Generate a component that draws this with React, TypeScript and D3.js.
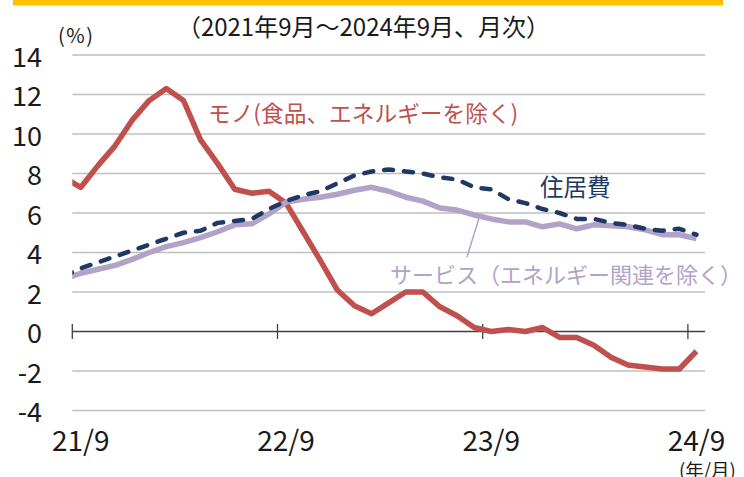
import React from "react";
import * as d3 from "d3";

// Months: index -1 = 2021/8 (outside axis, clipped), 0 = 2021/9 ... 36 = 2024/9
const startIndex = -1;
const goods = [7.8, 7.3, 8.4, 9.4, 10.7, 11.7, 12.3, 11.7, 9.7, 8.5, 7.2, 7.0, 7.1,
  6.5, 5.05, 3.6, 2.1, 1.3, 0.9, 1.45, 2.0, 2.0, 1.25, 0.8, 0.2,
  0.0, 0.1, 0.0, 0.2, -0.3, -0.3, -0.7, -1.3, -1.7, -1.8, -1.9, -1.9, -1.0];
const shelter = [2.8, 3.2, 3.5, 3.8, 4.1, 4.4, 4.7, 5.0, 5.1, 5.5, 5.6, 5.7, 6.2,
  6.6, 6.9, 7.1, 7.5, 7.9, 8.1, 8.2, 8.1, 8.0, 7.8, 7.7, 7.3,
  7.2, 6.7, 6.5, 6.2, 6.0, 5.7, 5.7, 5.5, 5.4, 5.2, 5.1, 5.2, 4.9];
const services = [2.65, 2.95, 3.15, 3.35, 3.65, 4.0, 4.3, 4.5, 4.75, 5.05, 5.4, 5.45, 5.95,
  6.55, 6.7, 6.8, 6.95, 7.15, 7.3, 7.1, 6.8, 6.6, 6.25, 6.15, 5.9,
  5.7, 5.55, 5.55, 5.3, 5.45, 5.2, 5.4, 5.35, 5.3, 5.15, 4.9, 4.9, 4.7];

const xTickIdx = [0, 12, 24, 36];
const xTickLabels = ["21/9", "22/9", "23/9", "24/9"];
const yTicks = [14, 12, 10, 8, 6, 4, 2, 0, -2, -4];

const subtitle = "（2021年9月～2024年9月、月次）";
const yUnit = "(%)";
const xUnit = "(年/月)";
const goodsLabel = "モノ(食品、エネルギーを除く)";
const shelterLabel = "住居費";
const servicesLabel = "サービス（エネルギー関連を除く）";

const FONT = "'Noto Sans CJK JP', 'Noto Sans', sans-serif";

export default function App() {
  const W = 744, H = 477;
  const x = d3.scaleLinear().domain([-0.5, 36.5]).range([72.3, 705]);
  const y = d3.scaleLinear().domain([-4, 14]).range([410.5, 55]);

  const mk = (vals: number[]) =>
    d3.line<number>().x((_, i) => x(i + startIndex)).y((v) => y(v))(vals) || "";

  return (
    <svg width={W} height={H} style={{ position: "absolute", left: 0, top: 0, background: "#fff" }} fontFamily={FONT}>
      <defs>
        <clipPath id="plot">
          <rect x={x(-0.5)} y={0} width={x(36.5) - x(-0.5) + 10} height={H} />
        </clipPath>
      </defs>
      <rect x={13} y={0} width={710} height={5.5} fill="#FFC000" />
      <text x={363.5} y={25} textAnchor="middle" dominantBaseline="central" fontSize={24} fill="#1a1a1a">{subtitle}</text>
      <text x={58} y={34.5} dominantBaseline="central" fontSize={20} letterSpacing={1.5} fill="#1a1a1a">{yUnit}</text>

      {yTicks.filter((t) => t !== 0).map((t) => (
        <line key={t} x1={x(-0.5)} x2={x(36.5)} y1={y(t)} y2={y(t)} stroke="#BFBFBF" strokeWidth={1.4} />
      ))}
      {yTicks.map((t) => (
        <text key={"l" + t} x={42} y={y(t)} textAnchor="end" dominantBaseline="central" fontSize={27} fill="#1a1a1a">{t}</text>
      ))}

      <line x1={x(-0.5)} x2={x(36.5)} y1={y(0)} y2={y(0)} stroke="#404040" strokeWidth={1.3} />
      {xTickIdx.map((t) => (
        <line key={"t" + t} x1={x(t - 0.5)} x2={x(t - 0.5)} y1={y(0) - 7.5} y2={y(0) + 7.5} stroke="#404040" strokeWidth={1.3} />
      ))}
      {xTickIdx.map((t, k) => (
        <text key={"xl" + t} x={x(t)} y={450.5} textAnchor="middle" fontSize={28} fill="#1a1a1a">{xTickLabels[k]}</text>
      ))}
      <text x={679} y={469} dominantBaseline="central" fontSize={18.5} fill="#1a1a1a">{xUnit}</text>

      <g clipPath="url(#plot)">
        <path d={mk(goods)} fill="none" stroke="#C0504D" strokeWidth={5.5} strokeLinejoin="round" />
        <path d={mk(services)} fill="none" stroke="#B3A2C7" strokeWidth={5.5} strokeLinejoin="round" />
        <path d={mk(shelter)} fill="none" stroke="#1F3864" strokeWidth={4.5} strokeDasharray="9 11" strokeLinecap="round" strokeLinejoin="round" />
      </g>

      <line x1={479} y1={218} x2={467} y2={257} stroke="#B3A2C7" strokeWidth={1.5} />
      <text x={208} y={112} dominantBaseline="central" fontSize={22.7} fill="#C0504D">{goodsLabel}</text>
      <text x={540} y={186} dominantBaseline="central" fontSize={23.5} fill="#1F3864">{shelterLabel}</text>
      <text x={390} y={273} dominantBaseline="central" fontSize={22} fill="#B3A2C7">{servicesLabel}</text>
    </svg>
  );
}
